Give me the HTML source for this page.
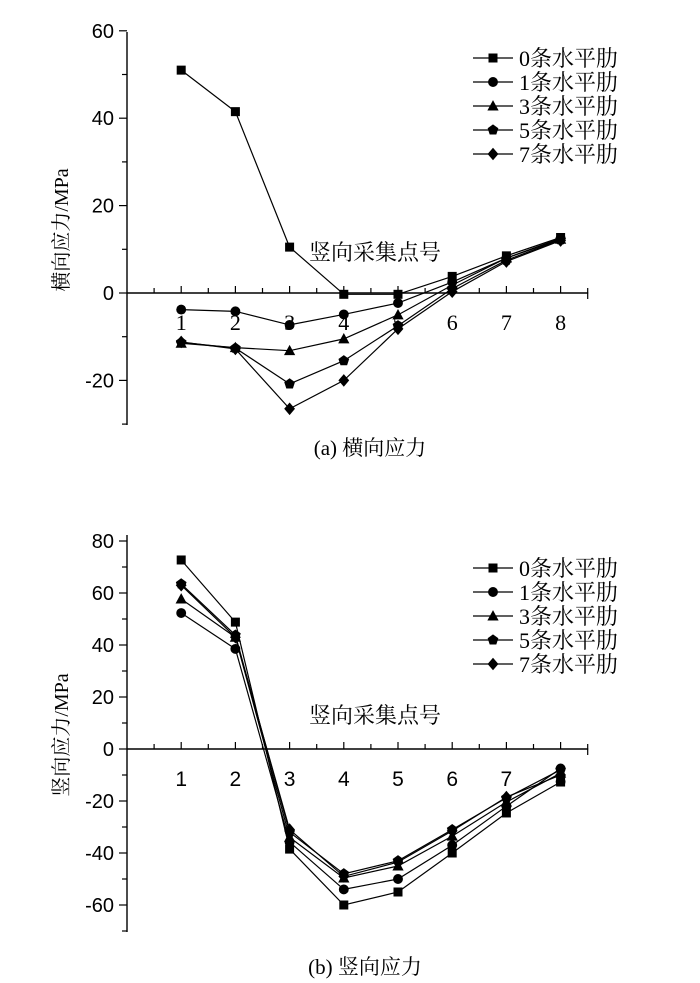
<!DOCTYPE html>
<html><head><meta charset="utf-8"><style>
html,body{margin:0;padding:0;background:#fff;}
svg{display:block;}
text{fill:#000;}
.serif{font-family:"Liberation Serif","Noto Serif CJK SC",serif;}
.sans{font-family:"Liberation Sans","Noto Sans CJK SC",sans-serif;}
</style></head><body>
<svg id="c" width="700" height="983" viewBox="0 0 700 983" xmlns="http://www.w3.org/2000/svg"></svg>
<script>
const categories = [1,2,3,4,5,6,7,8];
const seriesNames = ["0条水平肋","1条水平肋","3条水平肋","5条水平肋","7条水平肋"];
const markers = ["square","circle","triangle","pentagon","diamond"];
// chart (a) 横向应力
const aS0 = [51, 41.5, 10.5, -0.3, -0.3, 3.8, 8.5, 12.7];
const aS1 = [-3.8, -4.2, -7.3, -4.9, -2.3, 2.5, 8, 12.5];
const aS3 = [-11.5, -12.5, -13.2, -10.5, -5, 1.8, 8, 12.3];
const aS5 = [-11.3, -12.6, -20.8, -15.5, -7.5, 1, 7.5, 12.2];
const aS7 = [-11.2, -12.8, -26.5, -20, -8.2, 0.3, 7.2, 12];
const aTicks = [60,40,20,0,-20];
// chart (b) 竖向应力
const bS0 = [72.7, 48.8, -38.5, -60, -55, -40, -24.6, -12.7];
const bS1 = [52.3, 38.5, -35.8, -54, -50, -37, -22, -7.5];
const bS3 = [57.7, 43, -34, -49.6, -45, -33.5, -20.4, -9.3];
const bS5 = [63.5, 43.8, -32, -48, -43, -31, -18.8, -8];
const bS7 = [63, 43, -31, -49, -43.5, -31.5, -18.5, -10];
const bTicks = [80,60,40,20,0,-20,-40,-60];

const NS="http://www.w3.org/2000/svg";
const svg=document.getElementById('c');
function mk(tag,attrs,parent){const e=document.createElementNS(NS,tag);for(const k in attrs)e.setAttribute(k,attrs[k]);(parent||svg).appendChild(e);return e;}
function marker(g,type,x,y,s){
  let e;
  if(type==="square") e=mk('rect',{x:x-s,y:y-s,width:2*s,height:2*s,fill:'#000'},g);
  else if(type==="circle") e=mk('circle',{cx:x,cy:y,r:s*1.1,fill:'#000'},g);
  else if(type==="triangle") e=mk('polygon',{points:`${x},${y-s*1.3} ${x+s*1.25},${y+s} ${x-s*1.25},${y+s}`,fill:'#000'},g);
  else if(type==="pentagon"){let p=[];for(let i=0;i<5;i++){const a=-Math.PI/2+i*2*Math.PI/5;p.push((x+s*1.25*Math.cos(a))+','+(y+s*1.25*Math.sin(a)));}e=mk('polygon',{points:p.join(' '),fill:'#000'},g);}
  else e=mk('polygon',{points:`${x},${y-s*1.4} ${x+s*1.2},${y} ${x},${y+s*1.4} ${x-s*1.2},${y}`,fill:'#000'},g);
  return e;
}
function chart(cfg){
  const g=mk('g',{});
  
  
  const X=v=>cfg.x0+v*cfg.xs;
  const Y=v=>cfg.y0-v*cfg.ys;
  const ya=mk('line',{x1:cfg.x0,y1:cfg.yTop,x2:cfg.x0,y2:cfg.yBot,stroke:'#000','stroke-width':1.4},g);
  
  
  for(let v=cfg.vmin;v<=cfg.vmax;v+=cfg.minor){
    const major=cfg.ticks.includes(v);
    mk('line',{x1:cfg.x0-(major?8:5),y1:Y(v),x2:cfg.x0,y2:Y(v),stroke:'#000','stroke-width':1.2},g);
  }
  cfg.ticks.forEach(v=>{
    const t=mk('text',{x:cfg.x0-13,y:Y(v)+7,'text-anchor':'end','font-size':cfg.yFs,class:cfg.yFont},g);
    t.textContent=v;
    
    
  });
  const xa=mk('line',{x1:cfg.x0,y1:Y(0),x2:X(8.5)+0.5,y2:Y(0),stroke:'#000','stroke-width':1.4},g);
  
  
  for(let k=1;k<=17;k++){
    const v=k*0.5;
    mk('line',{x1:X(v),y1:Y(0),x2:X(v),y2:Y(0)-(k%2===0?7:5),stroke:'#000','stroke-width':1.2},g);
  }
  mk('line',{x1:X(8.5),y1:Y(0),x2:X(8.5),y2:Y(0)+6,stroke:'#000','stroke-width':1.2},g);
  categories.forEach(c=>{
    const t=mk('text',{x:X(c),y:Y(0)+37,'text-anchor':'middle','font-size':cfg.xFs,class:cfg.xFont},g);
    t.textContent=c;
    
    
  });
  const xt=mk('text',{x:cfg.xtX,y:cfg.xtY,'font-size':22,class:'serif'},g);
  xt.textContent='竖向采集点号';
  
  
  const yt=mk('text',{x:0,y:0,'font-size':20,class:'serif','text-anchor':'middle',transform:`translate(${cfg.ytX},${cfg.ytY}) rotate(-90)`},g);
  yt.textContent=cfg.ytitle;
  
  
  const cap=mk('text',{x:cfg.capX,y:cfg.capY,'font-size':21,class:'serif','text-anchor':'middle'},g);
  cap.textContent=cfg.caption;
  
  
  cfg.series.forEach((arr,i)=>{
    const sg=mk('g',{},g);
    
    
    const pts=arr.map((v,j)=>X(categories[j])+','+Y(v)).join(' ');
    const pl=mk('polyline',{points:pts,fill:'none',stroke:'#000','stroke-width':1.2},sg);
    
    
    arr.forEach((v,j)=>{
      const m=marker(sg,markers[i],X(categories[j]),Y(v),4.5);
      
      
    });
  });
  const lg=mk('g',{},g);
  
  
  seriesNames.forEach((n,i)=>{
    const y=cfg.legY+i*24;
    const eg=mk('g',{},lg);
    
    
    mk('line',{x1:473,y1:y,x2:513,y2:y,stroke:'#000','stroke-width':1.2},eg);
    marker(eg,markers[i],493,y,4.5);
    const t=mk('text',{x:519,y:y+8,'font-size':22,class:'serif'},eg);
    t.textContent=n;
  });
}
chart({name:'chart-a-transverse-stress',x0:127,xs:54.2,y0:293,ys:4.37,yTop:32,yBot:425,vmin:-30,vmax:60,minor:10,ticks:aTicks,
  series:[aS0,aS1,aS3,aS5,aS7],yFont:'sans',yFs:20,xFont:'serif',xFs:22,xtX:309,xtY:260,ytX:68,ytY:230,ytitle:'横向应力/MPa',caption:'(a) 横向应力',capX:370,capY:455,legY:58});
chart({name:'chart-b-vertical-stress',x0:127,xs:54.2,y0:749,ys:2.6,yTop:535,yBot:932,vmin:-70,vmax:80,minor:10,ticks:bTicks,
  series:[bS0,bS1,bS3,bS5,bS7],yFont:'sans',yFs:20,xFont:'sans',xFs:21,xtX:309,xtY:723,ytX:68,ytY:735,ytitle:'竖向应力/MPa',caption:'(b) 竖向应力',capX:365,capY:974,legY:568});
</script>
</body></html>
